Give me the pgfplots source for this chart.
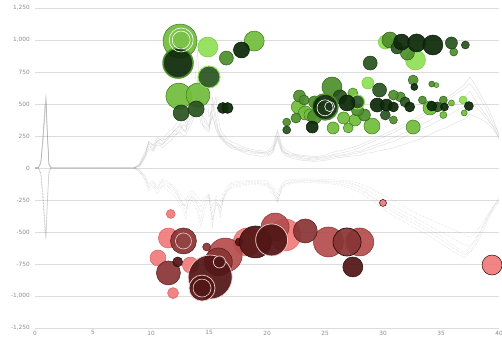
\documentclass[border=0pt]{standalone}
\usepackage{pgfplots}
\pgfplotsset{compat=1.18}
\usepackage{pgfplotstable}
\usepackage{fontspec}
\setmainfont{DejaVu Sans}

\definecolor{gL}{HTML}{8FE055}
\definecolor{gLd}{HTML}{78C845}
\definecolor{gML}{HTML}{72BD3C}
\definecolor{gMLd}{HTML}{3D7A1E}
\definecolor{gM}{HTML}{4F8F2C}
\definecolor{gMd}{HTML}{2F5E1A}
\definecolor{gD}{HTML}{2A5420}
\definecolor{gDd}{HTML}{173512}
\definecolor{gVD}{HTML}{0D2A09}
\definecolor{gVDd}{HTML}{051805}
\definecolor{rL}{HTML}{F07C7C}
\definecolor{rLd}{HTML}{D86464}
\definecolor{rM}{HTML}{B54D4D}
\definecolor{rMd}{HTML}{8A3030}
\definecolor{rD}{HTML}{8A3535}
\definecolor{rDd}{HTML}{5A1A1A}
\definecolor{rVD}{HTML}{521616}
\definecolor{rVDd}{HTML}{300A0A}
\definecolor{ring}{HTML}{F0D0D0}
\definecolor{ticktext}{HTML}{8A8A8A}
\definecolor{gridc}{HTML}{DCDCDC}

\pgfplotsset{
  bub/.style 2 args={scatter, only marks, mark=*, point meta=\thisrow{r},
    scatter/use mapped color={draw=#2, fill=#1},
    visualization depends on={\thisrow{r}\as\rad},
    scatter/@pre marker code/.append style={/tikz/mark size=\rad},
    fill opacity=0.93, line width=0.5pt},
  wring/.style={scatter, only marks, mark=o, point meta=\thisrow{r},
    scatter/use mapped color={draw=#1, fill=#1},
    visualization depends on={\thisrow{r}\as\rad},
    scatter/@pre marker code/.append style={/tikz/mark size=\rad},
    line width=0.6pt},
}

\pgfplotstableread{
x u1 u2 u3 u4 u5 l1 l2 l3 l4 l5
0 0 0 0 0 0 0 0 0 0 0
0.3 5 3 6 4 5 -5 -3 -6 -4 -5
0.5 40 30 50 35 45 -40 -30 -50 -35 -45
0.7 250 200 280 230 260 -250 -200 -280 -230 -260
0.85 450 400 500 430 470 -450 -400 -500 -430 -470
0.95 560 500 580 520 540 -550 -500 -560 -520 -540
1.05 300 260 330 280 310 -300 -260 -330 -280 -310
1.2 30 20 40 25 35 -30 -20 -40 -25 -35
1.4 0 0 0 0 0 0 0 0 0 0
8.5 0 0 0 0 0 0 0 0 0 0
9.0 20 10 30 15 25 -20 -10 -30 -15 -25
9.5 110 80 130 90 100 -80 -60 -100 -70 -90
9.8 190 150 200 170 210 -150 -120 -180 -130 -160
10.0 170 140 190 155 190 -135 -110 -165 -120 -150
10.2 150 130 180 140 170 -120 -100 -150 -110 -140
10.4 190 165 215 175 200 -150 -125 -185 -140 -160
10.6 220 180 240 200 210 -160 -130 -200 -150 -170
10.8 195 175 220 185 225 -125 -105 -160 -115 -150
11 180 160 210 190 230 -110 -90 -140 -100 -130
11.2 215 175 250 200 220 -130 -95 -165 -115 -140
11.5 250 200 280 230 240 -140 -110 -180 -120 -150
11.8 265 215 300 250 275 -155 -130 -200 -135 -175
12 300 250 320 270 290 -170 -140 -220 -160 -190
12.2 280 270 350 260 310 -190 -160 -240 -180 -210
12.5 350 280 420 300 330 -260 -200 -300 -230 -250
12.8 300 250 380 340 290 -330 -220 -280 -300 -280
13 280 260 350 320 300 -400 -250 -300 -280 -350
13.2 380 300 420 360 330 -260 -210 -320 -230 -260
13.5 450 350 500 400 380 -220 -180 -250 -200 -230
13.8 520 420 680 480 450 -250 -200 -300 -230 -250
14 700 500 920 600 550 -300 -220 -350 -260 -280
14.3 400 350 500 450 420 -420 -260 -460 -300 -350
14.5 330 330 600 380 400 -320 -240 -380 -270 -300
14.7 300 320 700 350 380 -260 -220 -300 -240 -280
15 280 300 400 320 330 -220 -200 -250 -210 -230
15.3 500 420 450 550 400 -460 -300 -400 -350 -420
15.6 350 300 560 400 320 -260 -220 -300 -240 -270
15.8 290 260 380 300 270 -300 -230 -280 -270 -300
16 250 230 300 260 240 -380 -260 -300 -320 -350
16.2 230 210 270 240 220 -250 -200 -240 -230 -260
16.5 200 180 230 210 190 -180 -150 -200 -170 -190
17 180 150 200 170 160 -130 -110 -150 -120 -140
17.5 150 140 185 145 165 -125 -105 -145 -115 -135
18 140 120 160 130 150 -120 -100 -140 -110 -130
18.5 135 105 150 125 135 -112 -98 -132 -104 -125
19 120 100 140 110 130 -110 -95 -130 -105 -120
19.5 125 90 135 115 120 -118 -97 -136 -108 -124
20 110 90 130 100 120 -120 -100 -140 -110 -130
20.5 150 120 170 130 140 -180 -140 -200 -160 -170
20.9 280 220 300 250 240 -275 -200 -260 -230 -250
21.3 150 120 170 140 130 -150 -120 -160 -130 -140
21.6 120 95 140 110 115 -125 -100 -140 -110 -125
22 100 80 120 90 110 -110 -90 -120 -100 -115
22.5 95 70 105 85 100 -105 -88 -118 -98 -110
23 80 60 100 70 90 -100 -85 -115 -95 -105
23.5 75 60 95 68 85 -98 -86 -112 -92 -102
24 70 50 90 60 80 -100 -85 -115 -95 -105
24.5 78 55 92 68 82 -104 -88 -118 -98 -108
25 80 60 100 70 90 -105 -90 -120 -100 -110
25.5 92 68 118 82 100 -108 -92 -125 -102 -115
26 100 80 130 90 110 -110 -95 -130 -105 -120
26.5 102 82 138 98 120 -114 -98 -138 -108 -128
27 110 90 150 100 130 -120 -100 -150 -110 -135
27.5 125 95 165 112 142 -135 -110 -170 -125 -150
28 130 100 180 120 160 -150 -120 -190 -140 -170
28.5 150 115 200 135 182 -185 -140 -220 -165 -200
29 170 120 220 150 200 -220 -160 -250 -190 -230
29.5 185 132 242 168 222 -250 -185 -285 -220 -265
30 200 140 260 180 240 -280 -210 -320 -250 -300
30.5 222 150 282 196 262 -305 -235 -350 -275 -325
31 240 160 300 210 280 -330 -260 -380 -300 -350
31.5 262 176 327 232 306 -355 -285 -405 -325 -375
32 280 190 350 250 330 -380 -310 -430 -350 -400
32.5 300 205 377 270 357 -405 -335 -455 -375 -425
33 320 220 400 290 380 -430 -360 -480 -400 -450
33.5 347 240 427 312 403 -455 -380 -505 -425 -475
34 370 260 450 330 430 -480 -400 -530 -450 -500
34.5 396 282 487 356 462 -505 -420 -560 -475 -530
35 420 300 520 380 490 -530 -440 -590 -500 -560
35.5 452 318 552 405 527 -565 -460 -620 -525 -590
36 480 340 580 430 560 -600 -480 -650 -550 -620
36.5 517 362 617 457 592 -630 -500 -675 -575 -650
37 550 380 650 480 620 -660 -520 -700 -600 -680
37.5 600 420 710 520 660 -620 -540 -660 -610 -650
38 520 400 640 480 600 -550 -500 -600 -560 -580
38.5 460 380 560 430 520 -470 -440 -520 -480 -500
39 400 350 480 380 440 -380 -370 -420 -390 -400
39.5 330 300 380 320 350 -310 -300 -330 -310 -320
40 250 240 260 230 270 -250 -240 -260 -230 -270
}\lines

\begin{document}
\begin{tikzpicture}
\begin{axis}[
  scale only axis, width=464pt, height=320pt,
  xmin=0, xmax=40, ymin=-1250, ymax=1250,
  xtick={0,5,...,40}, ytick={-1250,-1000,...,1250},
  axis x line=bottom, axis y line=left,
  x axis line style={-, draw=gridc, line width=0.8pt},
  y axis line style={draw=none},
  major tick length=0pt,
  ymajorgrids, grid style={gridc, line width=0.6pt},
  /pgf/number format/1000 sep={,},
  /pgf/number format/assume math mode=true,
  tick label style={font=\fontsize{5.8}{7}\selectfont, text=ticktext},
  yticklabel style={anchor=east, inner sep=0pt, xshift=-5pt},
  xticklabel style={anchor=north, inner sep=0pt, yshift=-2.5pt},
  clip=false,
]
% spectra lines
\foreach \c in {u1,u2,u3,u4,u5}{
  \addplot[color=black!55, opacity=0.22, line width=0.45pt] table[x=x, y=\c]{\lines};
}
\foreach \c in {l1,l2,l3,l4,l5}{
  \addplot[color=black!55, opacity=0.28, line width=0.5pt, densely dotted] table[x=x, y=\c]{\lines};
}

% ---------- green bubbles ----------
\addplot[bub={gML}{gMLd}] table[row sep=\\]{
x y r\\
12.5 992 17\\ 18.9 992 10\\ 12.4 562 13\\ 14.05 570 12\\
22.7 477 7\\ 23.3 430 7\\ 23.7 414 6\\ 25.7 313 6\\ 27.0 313 5\\
27.4 586 5\\ 26.6 391 6\\ 29.05 328 8\\ 34.6 648 2.5\\ 34.05 469 7\\
35.2 414 3.5\\ 35.9 508 3\\ 37.0 430 3\\ 32.6 320 7\\ 27.6 375 6\\
};
\addplot[bub={gL}{gLd}] table[row sep=\\]{
x y r\\
14.9 945 10\\ 28.7 664 6\\ 30.2 984 7\\ 32.8 844 10\\ 36.9 531 4\\
};
\addplot[bub={gM}{gMd}] table[row sep=\\]{
x y r\\
16.5 859 7\\ 21.7 359 4\\ 22.8 562 6\\ 25.6 633 10\\ 31.5 555 5\\
28.4 414 6\\ 30.9 375 4\\ 27.8 453 6\\ 24.1 516 6\\ 23.2 531 5\\
30.6 1000 8\\ 32.1 898 7\\ 36.1 906 4\\ 32.6 687 5\\ 34.2 656 3\\
30.9 570 5\\ 33.4 531 4\\ 35.2 531 4\\ 24.1 398 7\\ 22.5 390 5\\
};
\addplot[bub={gD}{gDd}] table[row sep=\\]{
x y r\\
12.6 430 8\\ 13.9 461 8\\ 21.7 297 4\\ 26.3 555 7\\ 29.7 609 7\\
30.2 414 5\\ 28.9 820 7\\ 35.9 977 6\\ 37.1 961 4\\ 31.2 938 6\\
31.9 516 5\\ 34.7 477 5\\
};
\addplot[bub={gD}{gL}, line width=1pt] table[row sep=\\]{
x y r\\
15.0 711 11\\ 27.8 516 7\\
};
\addplot[bub={gVD}{gVDd}] table[row sep=\\]{
x y r\\
17.8 922 8\\ 16.2 469 5.5\\ 16.6 469 5.5\\ 23.9 320 6\\ 26.9 508 8\\
29.5 492 7\\ 30.3 492 6\\ 30.9 477 5\\ 31.6 984 8\\ 32.9 977 9\\
34.3 961 10\\ 32.7 633 3.5\\ 32.3 477 5\\ 34.2 484 5\\ 35.3 477 4\\
37.4 484 4.5\\
};
\addplot[bub={gVD}{gM}, line width=1.5pt] table[row sep=\\]{
x y r\\
12.33 820 15\\ 25.0 477 13\\
};
\addplot[wring={white}] table[row sep=\\]{
x y r\\
12.6 1000 12\\ 12.6 1000 9\\ 25.0 470 8\\ 25.4 480 5\\
};

% ---------- red bubbles ----------
\addplot[bub={rL}{rLd}] table[row sep=\\]{
x y r\\
11.7 -359 4.5\\ 11.5 -547 10\\ 13.4 -758 8\\ 10.6 -703 8\\ 11.9 -977 5.5\\
18.3 -578 14\\ 21.55 -523 16\\
};
\addplot[bub={rL}{rVDd}] table[row sep=\\]{
x y r\\
39.4 -758 10\\ 30.0 -273 3.5\\
};
\addplot[bub={rM}{rMd}] table[row sep=\\]{
x y r\\
16.4 -680 17\\ 20.7 -461 14\\ 25.3 -578 15\\ 28.0 -578 14\\
};
\addplot[bub={rD}{rDd}] table[row sep=\\]{
x y r\\
12.8 -570 13\\ 11.5 -820 12\\ 15.8 -734 14\\ 14.8 -617 4\\ 23.3 -492 12\\
};
\addplot[bub={rD}{rVDd}, line width=0.7pt] table[row sep=\\]{
x y r\\
26.9 -578 14\\
};
\addplot[bub={rVD}{rVDd}] table[row sep=\\]{
x y r\\
12.3 -734 5\\ 17.6 -578 4\\ 19.0 -578 16\\ 27.4 -773 10\\
};
\addplot[bub={rVD}{ring}, line width=0.7pt] table[row sep=\\]{
x y r\\
15.1 -852 22\\ 14.4 -938 13\\ 15.9 -734 6\\ 20.4 -562 16\\
};
\addplot[wring={ring}] table[row sep=\\]{
x y r\\
12.8 -570 8\\ 14.4 -938 9\\
};
\end{axis}
\pgfresetboundingbox
\path (current axis.south west) ++(-35pt,-12pt) rectangle ++(502pt,340pt);
\end{tikzpicture}
\end{document}
